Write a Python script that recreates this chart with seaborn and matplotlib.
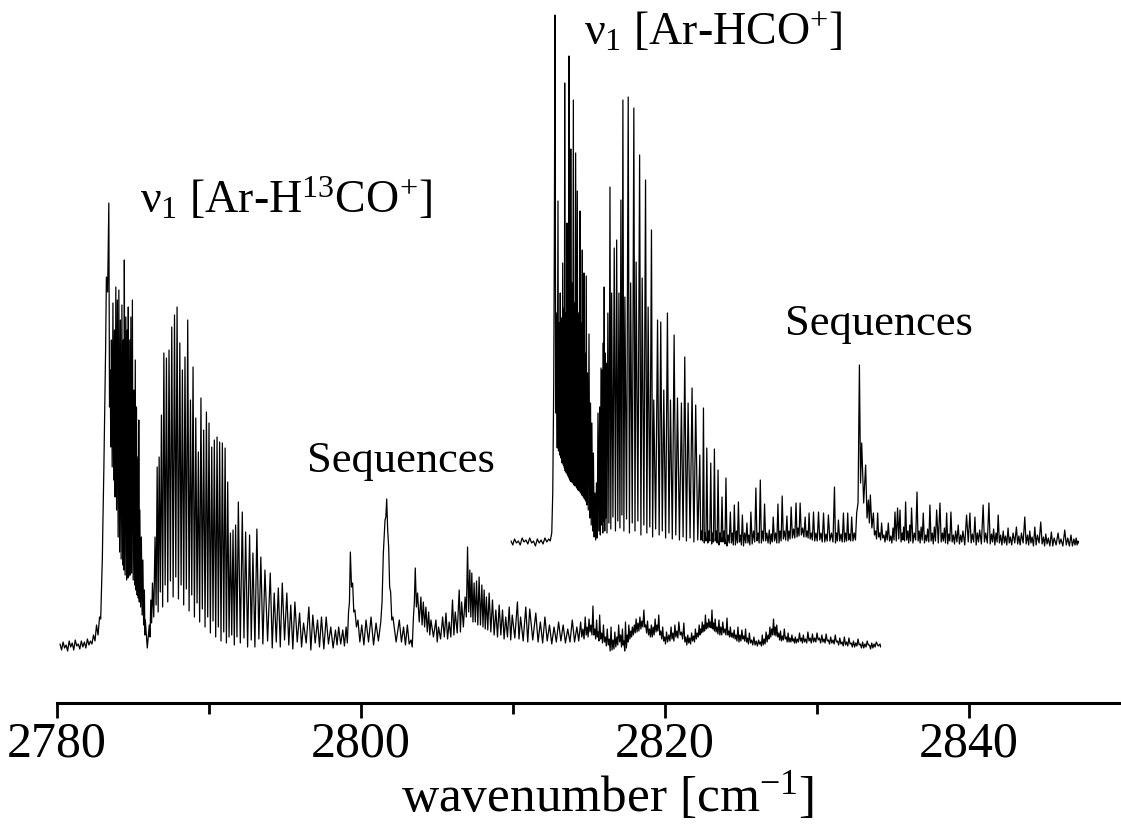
import matplotlib
matplotlib.use("Agg")
import matplotlib.pyplot as plt
import numpy as np
import pandas as pd
import seaborn as sns

sns.set_style("white")
plt.rcParams["font.family"] = ["Liberation Serif", "DejaVu Serif"]
plt.rcParams["mathtext.fontset"] = "custom"
plt.rcParams["mathtext.rm"] = "Liberation Serif"
plt.rcParams["mathtext.it"] = "Liberation Serif"
plt.rcParams["mathtext.bf"] = "Liberation Serif:bold"
plt.rcParams["text.color"] = "black"
plt.rcParams["axes.labelcolor"] = "black"
plt.rcParams["xtick.color"] = "black"

# ---------------------------------------------------------------------------
# Ar-H13CO+ nu1 band: line position (cm-1), peak signal, trough level after it
# ---------------------------------------------------------------------------
h13_pre_pos = [2780.20, 2780.40, 2780.60, 2780.80, 2781.00, 2781.20, 2781.40, 2781.60,
               2781.80, 2782.00, 2782.20, 2782.40, 2782.60, 2782.80, 2782.95, 2783.02,
               2783.15, 2783.25, 2783.41]
h13_pre_peak = [0.03, 0.05, 0.02, 0.06, 0.04, 0.07, 0.03, 0.06,
                0.05, 0.08, 0.06, 0.12, 0.22, 0.30, 0.70, 1.24,
                2.47, 3.70, 4.44]
h13_pre_floor = [-0.03, -0.01, -0.04, 0.00, -0.03, 0.01, -0.02, 0.00,
                 -0.01, 0.02, 0.03, 0.06, 0.12, 0.28, 0.90, 1.80,
                 3.00, 3.55, 2.40]

h13_q_pos = [2783.50, 2783.58, 2783.68, 2783.78, 2783.87, 2783.97, 2784.07, 2784.17,
             2784.27, 2784.37, 2784.43, 2784.53, 2784.63, 2784.69, 2784.79, 2784.86,
             2784.96, 2785.06, 2785.15, 2785.23, 2785.32, 2785.38, 2785.45, 2785.55,
             2785.65, 2785.75, 2785.81]
h13_q_peak = [2.77, 3.07, 3.44, 3.17, 3.60, 3.47, 3.57, 3.27,
              3.42, 3.07, 3.87, 3.30, 3.17, 3.40, 3.07, 3.30,
              3.47, 2.57, 2.87, 2.40, 1.90, 2.27, 1.37, 1.10,
              0.87, 0.57, 0.27]
h13_q_floor = [2.00, 1.80, 1.67, 1.50, 1.37, 1.10, 0.95, 0.88,
               0.82, 0.77, 0.72, 0.67, 0.69, 0.71, 0.72, 0.74,
               0.67, 0.62, 0.57, 0.52, 0.49, 0.45, 0.40, 0.32,
               0.22, 0.12, -0.01]

h13_r_pos = [2786.07, 2786.17, 2786.28, 2786.45, 2786.59, 2786.72, 2786.87, 2787.03,
             2787.20, 2787.37, 2787.55, 2787.73, 2787.90, 2788.08, 2788.25, 2788.42,
             2788.60, 2788.78, 2788.95, 2789.13, 2789.30, 2789.47, 2789.65, 2789.83,
             2790.00, 2790.18, 2790.35, 2790.53, 2790.70, 2790.88, 2791.06, 2791.23,
             2791.41, 2791.58, 2791.75, 2791.93, 2792.19, 2792.41, 2792.67, 2792.89,
             2793.15, 2793.41, 2793.68, 2794.03, 2794.29, 2794.56, 2794.82, 2795.12,
             2795.38, 2795.65, 2795.96, 2796.22, 2796.57, 2796.83, 2797.14, 2797.40,
             2797.71, 2798.01, 2798.32, 2798.53, 2798.80, 2799.02]
h13_r_peak = [0.22, 0.47, 0.64, 1.10, 1.80, 1.90, 2.32, 2.94,
              2.89, 2.97, 3.20, 3.32, 3.40, 3.04, 2.77, 2.90,
              3.27, 2.47, 2.80, 2.29, 1.95, 2.49, 2.17, 2.35,
              2.24, 2.00, 2.07, 2.10, 2.05, 2.04, 1.99, 1.65,
              1.14, 1.17, 1.22, 1.45, 1.35, 1.15, 1.12, 0.94,
              1.18, 0.90, 0.77, 0.74, 0.54, 0.59, 0.64, 0.54,
              0.42, 0.45, 0.34, 0.24, 0.40, 0.32, 0.27, 0.30,
              0.30, 0.20, 0.17, 0.20, 0.17, 0.20]
h13_r_floor = [0.10, 0.24, 0.30, 0.42, 0.35, 0.55, 0.40, 0.62,
               0.45, 0.66, 0.50, 0.70, 0.48, 0.62, 0.42, 0.58,
               0.36, 0.52, 0.30, 0.44, 0.25, 0.38, 0.20, 0.30,
               0.14, 0.26, 0.10, 0.20, 0.06, 0.15, 0.04, 0.10,
               0.12, 0.02, 0.10, 0.04, 0.09, 0.00, 0.07, 0.00,
               0.08, 0.03, 0.06, -0.01, 0.05, 0.00, 0.07, 0.02,
               -0.02, 0.05, 0.00, 0.04, -0.03, 0.04, 0.00, -0.02,
               0.03, -0.01, 0.02, 0.03, 0.01, 0.04]

# hot-band sequences of the Ar-H13CO+ spectrum
h13_seq_pos = [2799.18, 2799.30, 2799.45, 2799.60, 2799.80, 2800.05, 2800.33, 2800.66,
               2800.99, 2801.30, 2801.47, 2801.58, 2801.69, 2801.82, 2801.95, 2802.10,
               2802.52, 2802.80, 2803.05, 2803.29, 2803.45, 2803.57, 2803.72, 2803.94,
               2804.10, 2804.27, 2804.45, 2804.60, 2804.93, 2805.10, 2805.37, 2805.59,
               2805.80, 2806.02, 2806.20, 2806.46, 2806.62, 2806.85, 2807.01, 2807.16,
               2807.29, 2807.44, 2807.60, 2807.77, 2807.95, 2808.10, 2808.25, 2808.43,
               2808.65, 2808.87, 2809.09, 2809.31, 2809.52, 2809.75, 2809.95, 2810.29,
               2810.50, 2810.84, 2811.10, 2811.50, 2811.80, 2812.10, 2812.40, 2812.70,
               2813.00, 2813.30, 2813.60, 2813.90, 2814.20]
h13_seq_peak = [0.35, 0.95, 0.64, 0.37, 0.27, 0.22, 0.27, 0.30,
                0.24, 0.25, 0.94, 1.27, 1.48, 1.00, 0.55, 0.30,
                0.27, 0.20, 0.22, 0.07, 0.30, 0.79, 0.54, 0.50,
                0.45, 0.40, 0.35, 0.27, 0.27, 0.20, 0.30, 0.34,
                0.25, 0.47, 0.35, 0.57, 0.45, 0.50, 1.00, 0.77,
                0.74, 0.64, 0.66, 0.70, 0.62, 0.57, 0.50, 0.54,
                0.47, 0.37, 0.42, 0.37, 0.30, 0.40, 0.32, 0.45,
                0.30, 0.40, 0.38, 0.34, 0.25, 0.30, 0.22, 0.20,
                0.25, 0.22, 0.18, 0.27, 0.20]
h13_seq_floor = [0.45, 0.60, 0.35, 0.20, 0.05, 0.02, 0.05, 0.02,
                 0.06, 0.45, 1.10, 1.30, 1.17, 0.60, 0.27, 0.05,
                 0.05, 0.02, 0.03, 0.00, 0.45, 0.40, 0.25, 0.22,
                 0.20, 0.15, 0.12, 0.10, 0.05, 0.08, 0.10, 0.08,
                 0.10, 0.12, 0.14, 0.15, 0.20, 0.30, 0.35, 0.30,
                 0.25, 0.25, 0.22, 0.22, 0.20, 0.18, 0.17, 0.15,
                 0.12, 0.10, 0.12, 0.08, 0.10, 0.07, 0.09, 0.08,
                 0.06, 0.05, 0.07, 0.05, 0.04, 0.06, 0.03, 0.05,
                 0.06, 0.04, 0.05, 0.05, 0.06]

# weak tail of the Ar-H13CO+ spectrum
h13_tail_pos = [2814.45, 2814.60, 2814.75, 2814.88, 2815.00, 2815.13, 2815.26, 2815.38,
                2815.50, 2815.60, 2815.70, 2815.83, 2815.95, 2816.08, 2816.20, 2816.33,
                2816.45, 2816.58, 2816.70, 2816.83, 2816.95, 2817.08, 2817.20, 2817.30,
                2817.40, 2817.52, 2817.62, 2817.75, 2817.85, 2817.98, 2818.10, 2818.22,
                2818.35, 2818.48, 2818.61, 2818.73, 2818.85, 2818.98, 2819.10, 2819.22,
                2819.35, 2819.47, 2819.59, 2819.72, 2819.85, 2819.97, 2820.10, 2820.25,
                2820.40, 2820.52, 2820.65, 2820.78, 2820.91, 2821.08, 2821.24, 2821.37,
                2821.50, 2821.62, 2821.75, 2821.88, 2822.00, 2822.12, 2822.25, 2822.35,
                2822.45, 2822.55, 2822.66, 2822.77, 2822.88, 2822.98, 2823.09, 2823.20,
                2823.30, 2823.42, 2823.55, 2823.67, 2823.80, 2823.94, 2824.08, 2824.19,
                2824.30, 2824.42, 2824.55, 2824.67, 2824.80, 2824.93, 2825.06, 2825.18,
                2825.30, 2825.42, 2825.55, 2825.70, 2825.85, 2826.00, 2826.16, 2826.28,
                2826.40, 2826.52, 2826.65, 2826.78, 2826.90, 2827.02, 2827.14, 2827.25,
                2827.35, 2827.48, 2827.60, 2827.72, 2827.85, 2827.98, 2828.10, 2828.22,
                2828.35, 2828.46, 2828.57, 2828.70, 2828.85, 2828.98, 2829.10, 2829.25,
                2829.40, 2829.55, 2829.70, 2829.85, 2830.00, 2830.16, 2830.32, 2830.46,
                2830.60, 2830.75, 2830.90, 2831.05, 2831.20, 2831.35, 2831.50, 2831.65,
                2831.80, 2831.95, 2832.10, 2832.25, 2832.40, 2832.55, 2832.70, 2832.85,
                2833.00, 2833.15, 2833.30, 2833.45, 2833.60, 2833.75, 2833.90, 2834.15]
h13_tail_peak = [0.25, 0.18, 0.30, 0.20, 0.28, 0.22, 0.41, 0.18,
                 0.27, 0.15, 0.32, 0.14, 0.22, 0.10, 0.18, 0.08,
                 0.20, 0.07, 0.15, 0.10, 0.22, 0.12, 0.18, 0.06,
                 0.25, 0.12, 0.22, 0.16, 0.20, 0.22, 0.28, 0.24,
                 0.30, 0.26, 0.37, 0.22, 0.26, 0.18, 0.22, 0.20,
                 0.28, 0.22, 0.32, 0.16, 0.20, 0.10, 0.15, 0.12,
                 0.20, 0.14, 0.22, 0.16, 0.25, 0.15, 0.24, 0.10,
                 0.12, 0.09, 0.14, 0.11, 0.18, 0.14, 0.22, 0.18,
                 0.25, 0.22, 0.32, 0.24, 0.28, 0.25, 0.37, 0.24,
                 0.28, 0.20, 0.27, 0.20, 0.25, 0.18, 0.29, 0.16,
                 0.20, 0.14, 0.17, 0.12, 0.20, 0.12, 0.17, 0.11,
                 0.18, 0.09, 0.14, 0.07, 0.10, 0.06, 0.07, 0.05,
                 0.12, 0.08, 0.15, 0.12, 0.20, 0.18, 0.28, 0.20,
                 0.22, 0.14, 0.16, 0.11, 0.18, 0.10, 0.14, 0.09,
                 0.12, 0.08, 0.10, 0.08, 0.14, 0.09, 0.12, 0.08,
                 0.15, 0.09, 0.13, 0.09, 0.14, 0.09, 0.12, 0.08,
                 0.13, 0.07, 0.10, 0.07, 0.12, 0.06, 0.09, 0.05,
                 0.10, 0.05, 0.09, 0.04, 0.06, 0.04, 0.08, 0.03,
                 0.05, 0.03, 0.06, 0.02, 0.04, 0.03, 0.05, 0.03]
h13_tail_floor = [0.10, 0.08, 0.12, 0.10, 0.15, 0.12, 0.12, 0.08,
                  0.10, 0.06, 0.08, 0.04, 0.05, 0.01, 0.02, -0.04,
                  -0.03, -0.02, 0.00, 0.02, 0.05, 0.00, 0.02, -0.04,
                  -0.01, 0.05, 0.08, 0.10, 0.12, 0.14, 0.15, 0.16,
                  0.18, 0.20, 0.20, 0.14, 0.12, 0.10, 0.10, 0.12,
                  0.15, 0.16, 0.12, 0.08, 0.06, 0.03, 0.05, 0.06,
                  0.08, 0.06, 0.10, 0.09, 0.12, 0.08, 0.05, 0.02,
                  0.04, 0.03, 0.06, 0.05, 0.08, 0.10, 0.12, 0.14,
                  0.15, 0.16, 0.18, 0.19, 0.20, 0.19, 0.18, 0.16,
                  0.15, 0.13, 0.12, 0.12, 0.14, 0.12, 0.12, 0.10,
                  0.10, 0.09, 0.08, 0.06, 0.05, 0.06, 0.08, 0.06,
                  0.05, 0.03, 0.04, 0.02, 0.02, 0.01, 0.03, 0.01,
                  0.02, 0.03, 0.05, 0.08, 0.10, 0.12, 0.12, 0.11,
                  0.10, 0.07, 0.06, 0.07, 0.08, 0.05, 0.05, 0.05,
                  0.06, 0.04, 0.04, 0.05, 0.06, 0.04, 0.05, 0.04,
                  0.06, 0.04, 0.05, 0.05, 0.07, 0.04, 0.05, 0.04,
                  0.06, 0.03, 0.04, 0.03, 0.05, 0.02, 0.03, 0.01,
                  0.02, 0.01, 0.03, 0.00, 0.00, 0.01, 0.02, -0.01,
                  -0.01, 0.00, 0.02, -0.02, -0.01, 0.00, 0.01, 0.00]

# ---------------------------------------------------------------------------
# Ar-HCO+ nu1 band
# ---------------------------------------------------------------------------
hco_pre_pos = [2809.87, 2810.10, 2810.35, 2810.60, 2810.85, 2811.10, 2811.35, 2811.60,
               2811.85, 2812.10, 2812.35, 2812.55, 2812.68, 2812.76]
hco_pre_peak = [0.02, 0.04, 0.02, 0.05, 0.03, 0.05, 0.02, 0.04,
                0.03, 0.05, 0.04, 0.10, 1.60, 5.28]
hco_pre_floor = [-0.02, 0.00, -0.02, 0.01, -0.01, 0.00, -0.03, 0.00,
                 -0.01, 0.01, 0.02, 0.50, 3.00, 1.30]

hco_q_pos = [2812.86, 2812.96, 2813.03, 2813.11, 2813.19, 2813.27, 2813.36, 2813.40,
             2813.47, 2813.55, 2813.62, 2813.68, 2813.75, 2813.80, 2813.88, 2813.97,
             2814.05, 2814.12, 2814.23, 2814.31, 2814.41, 2814.47, 2814.56, 2814.62,
             2814.67, 2814.73, 2814.82, 2814.90, 2815.00, 2815.10, 2815.19, 2815.29,
             2815.39]
hco_q_peak = [2.30, 3.42, 2.20, 2.50, 2.25, 2.80, 2.35, 4.60,
              2.30, 3.20, 2.40, 4.87, 2.50, 3.94, 2.60, 4.43,
              2.40, 3.90, 3.52, 2.30, 3.32, 2.20, 2.93, 2.10,
              2.70, 1.90, 2.67, 1.70, 2.09, 1.40, 1.20, 0.90,
              0.50]
hco_q_floor = [0.95, 0.92, 0.88, 0.85, 0.80, 0.78, 0.75, 0.72,
               0.70, 0.68, 0.66, 0.64, 0.62, 0.61, 0.60, 0.58,
               0.57, 0.55, 0.53, 0.52, 0.50, 0.48, 0.47, 0.46,
               0.44, 0.42, 0.38, 0.33, 0.25, 0.18, 0.12, 0.06,
               0.03]

hco_r_pos = [2815.49, 2815.59, 2815.70, 2815.79, 2815.87, 2815.94, 2816.00, 2816.07,
             2816.13, 2816.24, 2816.38, 2816.49, 2816.66, 2816.82, 2816.97, 2817.10,
             2817.23, 2817.36, 2817.58, 2817.74, 2817.95, 2818.10, 2818.33, 2818.50,
             2818.72, 2818.89, 2819.11, 2819.26, 2819.51, 2819.72, 2819.92, 2820.16,
             2820.36, 2820.60, 2820.82, 2821.08, 2821.30, 2821.52, 2821.78, 2822.02,
             2822.29, 2822.41, 2822.53, 2822.64, 2822.75, 2822.88, 2823.01, 2823.13,
             2823.25, 2823.37, 2823.49, 2823.62, 2823.75, 2823.88, 2824.01, 2824.15,
             2824.30, 2824.43, 2824.56, 2824.70, 2824.83, 2824.96, 2825.09, 2825.24,
             2825.39, 2825.52, 2825.65, 2825.82, 2825.98, 2826.12, 2826.27, 2826.41,
             2826.55, 2826.70, 2826.86, 2826.99, 2827.12, 2827.28, 2827.43, 2827.57,
             2827.71, 2827.86, 2828.02, 2828.16, 2828.30, 2828.46, 2828.62, 2828.75,
             2828.89, 2829.05, 2829.22, 2829.35, 2829.48, 2829.62, 2829.77, 2829.93,
             2830.10, 2830.26, 2830.43, 2830.59, 2830.75, 2830.95, 2831.15, 2831.28,
             2831.41, 2831.58, 2831.74, 2831.88, 2832.02, 2832.15, 2832.28, 2832.45]
hco_r_peak = [0.60, 1.30, 1.36, 1.75, 1.73, 2.00, 2.56, 1.90,
              1.80, 2.30, 3.56, 2.50, 2.95, 3.03, 2.50, 3.43,
              4.43, 2.46, 4.46, 2.60, 4.35, 2.81, 3.88, 2.65,
              3.63, 2.36, 3.13, 1.43, 2.23, 2.21, 1.53, 2.30,
              1.43, 2.08, 1.45, 1.40, 1.86, 1.40, 1.55, 1.38,
              0.88, 0.12, 1.35, 0.10, 0.95, 0.12, 0.80, 0.10,
              0.94, 0.12, 0.73, 0.10, 0.46, 0.12, 0.65, 0.08,
              0.31, 0.10, 0.38, 0.12, 0.41, 0.08, 0.28, 0.10,
              0.20, 0.08, 0.31, 0.12, 0.55, 0.10, 0.63, 0.12,
              0.39, 0.10, 0.13, 0.09, 0.26, 0.10, 0.39, 0.12,
              0.47, 0.12, 0.27, 0.12, 0.36, 0.14, 0.40, 0.15,
              0.40, 0.15, 0.26, 0.12, 0.30, 0.10, 0.31, 0.10,
              0.31, 0.10, 0.30, 0.09, 0.28, 0.10, 0.56, 0.10,
              0.23, 0.09, 0.30, 0.10, 0.30, 0.09, 0.26, 0.10]
hco_r_floor = [0.05, 0.12, 0.08, 0.18, 0.10, 0.22, 0.12, 0.25,
               0.10, 0.20, 0.14, 0.26, 0.12, 0.22, 0.15, 0.28,
               0.12, 0.24, 0.10, 0.20, 0.12, 0.22, 0.08, 0.18,
               0.10, 0.16, 0.06, 0.14, 0.08, 0.12, 0.05, 0.10,
               0.04, 0.08, 0.03, 0.06, 0.02, 0.05, 0.01, 0.03,
               0.03, 0.02, 0.00, 0.02, 0.00, 0.02, -0.01, 0.01,
               0.02, 0.00, -0.02, 0.01, 0.01, -0.01, -0.03, 0.00,
               0.00, -0.02, -0.02, 0.00, 0.01, -0.02, -0.03, 0.00,
               0.00, -0.02, -0.01, 0.01, 0.02, 0.00, 0.00, 0.02,
               0.02, 0.00, -0.01, 0.01, 0.02, 0.00, 0.00, 0.02,
               0.04, 0.03, 0.02, 0.04, 0.05, 0.05, 0.06, 0.07,
               0.08, 0.06, 0.06, 0.05, 0.04, 0.03, 0.02, 0.02,
               0.03, 0.01, 0.01, 0.02, 0.02, 0.01, 0.00, 0.02,
               0.02, 0.01, 0.01, 0.02, 0.03, 0.02, 0.02, 0.03]

hco_tail_pos = [2832.61, 2832.79, 2832.94, 2833.20, 2833.38, 2833.51, 2833.71, 2833.85,
                2833.99, 2834.12, 2834.25, 2834.40, 2834.55, 2834.69, 2834.85, 2835.00,
                2835.13, 2835.30, 2835.46, 2835.60, 2835.70, 2835.83, 2835.97, 2836.10,
                2836.22, 2836.40, 2836.58, 2836.72, 2836.85, 2836.99, 2837.15, 2837.28,
                2837.43, 2837.58, 2837.72, 2837.87, 2838.09, 2838.25, 2838.38, 2838.53,
                2838.67, 2838.81, 2838.97, 2839.12, 2839.29, 2839.45, 2839.60, 2839.84,
                2840.06, 2840.22, 2840.39, 2840.55, 2840.70, 2840.93, 2841.10, 2841.31,
                2841.48, 2841.62, 2841.78, 2841.92, 2842.08, 2842.25, 2842.40, 2842.57,
                2842.72, 2842.90, 2843.12, 2843.28, 2843.45, 2843.67, 2843.85, 2844.00,
                2844.15, 2844.33, 2844.50, 2844.72, 2844.90, 2845.05, 2845.22, 2845.42,
                2845.60, 2845.86, 2846.05, 2846.30, 2846.50, 2846.71, 2846.90, 2847.05,
                2847.17]
hco_tail_peak = [0.30, 1.78, 1.00, 0.78, 0.43, 0.48, 0.30, 0.12,
                 0.30, 0.10, 0.20, 0.08, 0.12, 0.20, 0.07, 0.15,
                 0.31, 0.35, 0.33, 0.10, 0.16, 0.41, 0.12, 0.18,
                 0.35, 0.10, 0.51, 0.12, 0.16, 0.30, 0.08, 0.14,
                 0.38, 0.10, 0.16, 0.33, 0.40, 0.10, 0.15, 0.30,
                 0.09, 0.31, 0.08, 0.12, 0.18, 0.08, 0.12, 0.28,
                 0.30, 0.09, 0.26, 0.10, 0.13, 0.38, 0.10, 0.40,
                 0.09, 0.14, 0.10, 0.28, 0.08, 0.12, 0.07, 0.15,
                 0.06, 0.10, 0.16, 0.07, 0.10, 0.26, 0.08, 0.12,
                 0.06, 0.16, 0.08, 0.21, 0.06, 0.09, 0.05, 0.11,
                 0.05, 0.10, 0.04, 0.13, 0.05, 0.08, 0.04, 0.05,
                 0.02]
hco_tail_floor = [0.40, 0.60, 0.40, 0.25, 0.20, 0.15, 0.08, 0.04,
                  0.06, 0.03, 0.05, 0.01, 0.03, 0.02, 0.00, 0.03,
                  0.02, 0.04, 0.01, 0.03, 0.02, 0.03, 0.00, 0.02,
                  0.00, 0.03, 0.02, 0.00, 0.03, 0.00, 0.02, 0.01,
                  0.02, -0.01, 0.02, 0.00, 0.01, 0.02, 0.00, -0.01,
                  0.02, 0.01, -0.01, 0.01, -0.01, 0.01, -0.02, 0.01,
                  0.00, 0.01, -0.02, 0.01, -0.01, 0.01, 0.00, -0.01,
                  0.01, -0.02, 0.01, 0.00, -0.02, 0.00, -0.02, 0.00,
                  -0.02, 0.00, -0.01, -0.02, 0.00, -0.01, -0.02, 0.00,
                  -0.03, -0.02, 0.00, -0.01, -0.03, -0.01, -0.03, -0.03,
                  -0.02, -0.01, -0.03, -0.02, -0.03, -0.03, -0.02, -0.02,
                  0.00]

HCO_OFFSET = 1.04  # vertical shift of the Ar-HCO+ trace


def trace(positions, peaks, floors, offset=0.0):
    """Zig-zag polyline: each line peak followed by the trough before the next line."""
    xs, ys = [], []
    for i, (p, h, f) in enumerate(zip(positions, peaks, floors)):
        xs.append(p)
        ys.append(h + offset)
        nxt = positions[i + 1] if i + 1 < len(positions) else p + 0.06
        xs.append(0.5 * (p + nxt))
        ys.append(f + offset)
    return xs, ys


h13_x, h13_y = trace(h13_pre_pos + h13_q_pos + h13_r_pos + h13_seq_pos + h13_tail_pos,
                     h13_pre_peak + h13_q_peak + h13_r_peak + h13_seq_peak + h13_tail_peak,
                     h13_pre_floor + h13_q_floor + h13_r_floor + h13_seq_floor + h13_tail_floor)
hco_x, hco_y = trace(hco_pre_pos + hco_q_pos + hco_r_pos + hco_tail_pos,
                     hco_pre_peak + hco_q_peak + hco_r_peak + hco_tail_peak,
                     hco_pre_floor + hco_q_floor + hco_r_floor + hco_tail_floor,
                     offset=HCO_OFFSET)

df = pd.concat([
    pd.DataFrame({"wavenumber": h13_x, "signal": h13_y, "band": "Ar-H13CO+"}),
    pd.DataFrame({"wavenumber": hco_x, "signal": hco_y, "band": "Ar-HCO+"}),
], ignore_index=True)

fig = plt.figure(figsize=(11.21, 8.27), dpi=100)
ax = fig.add_axes([57 / 1121, 124 / 827, 1064 / 1121, 703 / 827])

sns.lineplot(data=df, x="wavenumber", y="signal", units="band", estimator=None,
             sort=False, color="black", linewidth=0.9, legend=False, ax=ax)

ax.set_xlim(2780, 2850)
ax.set_ylim(-0.56, 6.47)

for side in ("top", "right", "left"):
    ax.spines[side].set_visible(False)
ax.spines["bottom"].set_linewidth(2.2)
ax.spines["bottom"].set_color("black")

ax.set_xticks([2780, 2800, 2820, 2840])
ax.set_xticks([2790, 2810, 2830], minor=True)
ax.set_yticks([])
ax.tick_params(axis="x", which="both", bottom=True, top=False, direction="out",
               width=2, color="black")
ax.tick_params(axis="x", which="major", length=11, labelsize=36, pad=2,
               labelcolor="black")
ax.tick_params(axis="x", which="minor", length=8)
ax.set_xlabel("wavenumber [cm$^{-1}$]", fontsize=37, color="black")
ax.xaxis.set_label_coords(0.517, -0.095)
ax.set_ylabel("")

ax.text(2785.45, 4.34, r"$\nu_1$ [Ar-H$^{13}$CO$^{+}$]", fontsize=33,
        ha="left", va="baseline")
ax.text(2814.67, 6.02, r"$\nu_1$ [Ar-HCO$^{+}$]", fontsize=33,
        ha="left", va="baseline")
ax.text(2796.48, 1.75, "Sequences", fontsize=32, ha="left", va="baseline")
ax.text(2827.9, 3.12, "Sequences", fontsize=32, ha="left", va="baseline")

fig.savefig("out.png", dpi=100)
